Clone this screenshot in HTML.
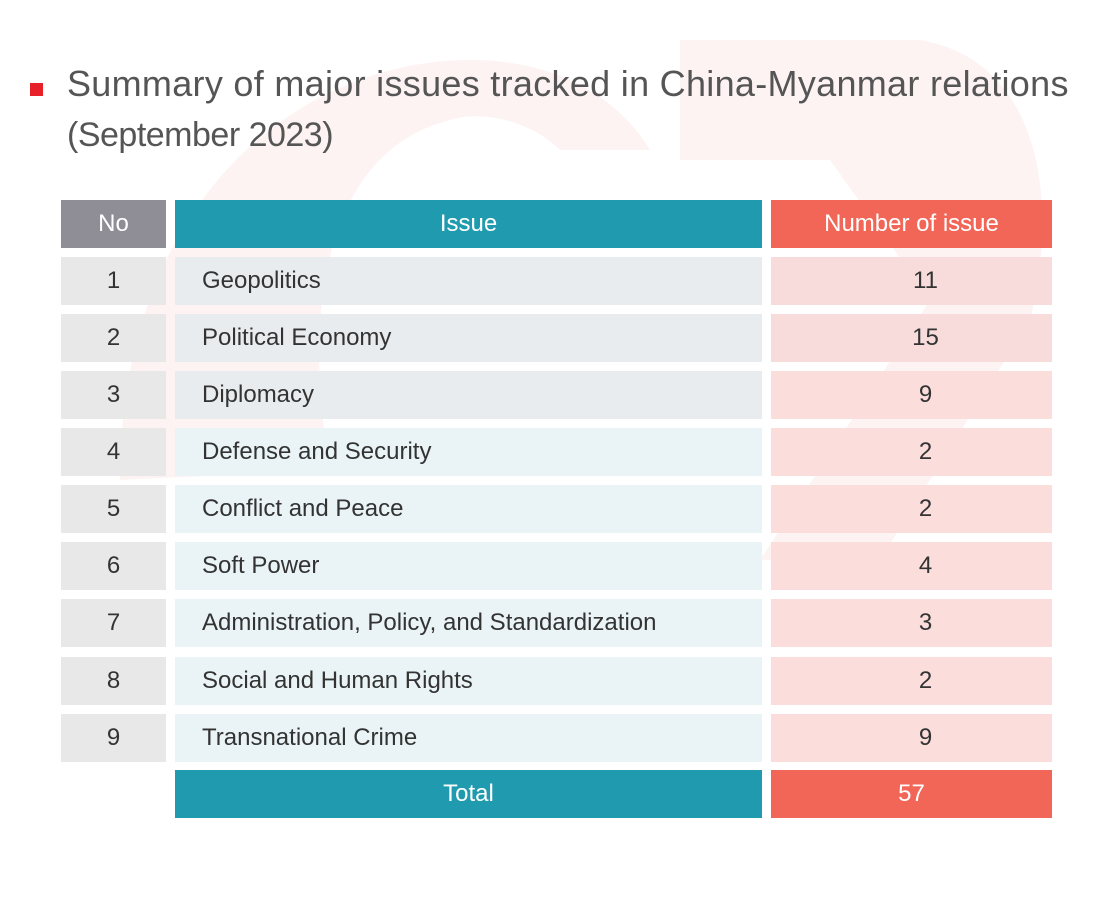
<!DOCTYPE html>
<html><head><meta charset="utf-8"><style>
body{margin:0;width:1110px;height:917px;background:#fff;position:relative;overflow:hidden;font-family:"Liberation Sans",sans-serif;}
.t{position:absolute;left:67px;color:#555;font-size:36px;letter-spacing:0.3px;white-space:nowrap;}
.sq{position:absolute;left:30px;top:83px;width:13px;height:13px;background:#e8202a;}
.c{position:absolute;height:48px;line-height:48px;font-size:24px;color:#333;letter-spacing:0;white-space:nowrap;}
.n{left:61px;width:105px;background:#e8e8e8;text-align:center;}
.i{left:175px;width:560px;padding-left:27px;background:#eaf4f6;}
.v{left:771px;width:281px;background:#fbdedc;text-align:center;text-indent:28px;}
.h{color:#fff;}
</style></head><body>
<svg style="position:absolute;left:0;top:0" width="1110" height="917">
<path d="M120 480 C120 200 300 60 470 60 C560 60 620 100 650 150 L560 150 C530 120 480 110 450 120 C330 150 300 300 330 470 Z" fill="#fdf3f3"/>
<path d="M680 40 L920 40 C1040 60 1060 200 1030 320 L880 560 L760 560 L930 300 L830 160 L680 160 Z" fill="#fdf3f3"/>
</svg>
<div class="sq"></div>
<div class="t" style="top:63px">Summary of major issues tracked in China-Myanmar relations</div>
<div class="t" style="top:116px;font-size:34px;letter-spacing:-0.5px">(September 2023)</div>
<div class="c n h" style="top:200px;background:#8f8e96">No</div>
<div class="c i h" style="top:200px;background:#1f9aae;text-align:center;padding-left:0;width:587px">Issue</div>
<div class="c v h" style="top:200px;background:#f16657;text-indent:0">Number of issue</div>

<div class="c n" style="top:257px">1</div><div class="c i" style="top:257px;background:#e9ecef">Geopolitics</div><div class="c v" style="top:257px;background:#f8dcdc">11</div>
<div class="c n" style="top:314px">2</div><div class="c i" style="top:314px;background:#e9ecef">Political Economy</div><div class="c v" style="top:314px;background:#f8dcdc">15</div>
<div class="c n" style="top:371px">3</div><div class="c i" style="top:371px;background:#e9ecef">Diplomacy</div><div class="c v" style="top:371px">9</div>
<div class="c n" style="top:428px">4</div><div class="c i" style="top:428px">Defense and Security</div><div class="c v" style="top:428px">2</div>
<div class="c n" style="top:485px">5</div><div class="c i" style="top:485px">Conflict and Peace</div><div class="c v" style="top:485px">2</div>
<div class="c n" style="top:542px">6</div><div class="c i" style="top:542px">Soft Power</div><div class="c v" style="top:542px">4</div>
<div class="c n" style="top:599px">7</div><div class="c i" style="top:599px">Administration, Policy, and Standardization</div><div class="c v" style="top:599px">3</div>
<div class="c n" style="top:657px">8</div><div class="c i" style="top:657px">Social and Human Rights</div><div class="c v" style="top:657px">2</div>
<div class="c n" style="top:714px">9</div><div class="c i" style="top:714px">Transnational Crime</div><div class="c v" style="top:714px">9</div>

<div class="c i h" style="top:770px;background:#1f9aae;text-align:center;padding-left:0;width:587px">Total</div>
<div class="c v h" style="top:770px;background:#f16657;text-indent:0">57</div>
</body></html>
